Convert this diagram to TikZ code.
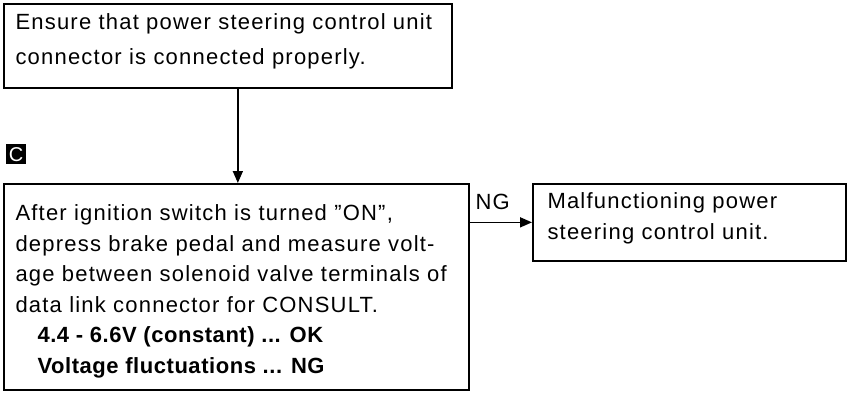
\documentclass[tikz,border=0pt]{standalone}
\usepackage{fontspec}
\setmainfont{Liberation Sans}[LetterSpace=5.5,BoldFeatures={LetterSpace=2.5}]
\usetikzlibrary{arrows.meta}
\begin{document}
\begin{tikzpicture}[x=1pt,y=-1pt,
  box/.style={draw,line width=1.7pt,anchor=north west,inner sep=0pt,align=left},
  txt/.style={font=\fontsize{22}{30.6}\selectfont},
  arr/.style={line width=1.6pt,-{Triangle[length=12pt,width=10pt]}}]
\useasboundingbox (0,0) rectangle (852,392);
\node[box,minimum width=448pt,minimum height=84pt] (b1) at (3,3) {};
\node[txt,anchor=north west,align=left,font=\fontsize{22}{35}\selectfont] (t1) at (12,10)
  {Ensure that power steering control unit\\connector is connected properly.};
\node[box,minimum width=465pt,minimum height=206pt] (b2) at (3,183) {};
\node[txt,anchor=north west,align=left] (t2) at (12,201)
  {After ignition switch is turned ''ON'',\\
   depress brake pedal and measure volt-\\
   age between solenoid valve terminals of\\
   data link connector for CONSULT.\\
   \hspace*{22pt}\textbf{4.4 - 6.6V (constant) ... OK}\\
   \hspace*{22pt}\textbf{Voltage fluctuations ... NG}};
\node[box,minimum width=313pt,minimum height=77pt] (b3) at (532,183) {};
\node[txt,anchor=north west,align=left,font=\fontsize{22}{31}\selectfont] (t3) at (544,189)
  {Malfunctioning power\\steering control unit.};
\node[fill=black,text=white,minimum size=20pt,inner sep=0pt,anchor=north west,
  font=\fontsize{20}{20}\selectfont] (c) at (6,144) {C};
\draw[arr] ([xshift=10pt]b1.south) -- ([xshift=10pt]b1.south |- b2.north);
\draw[arr] (b2.east |- b3.west) -- node[above,txt,pos=0.37,yshift=9pt] (ng) {NG} (b3.west);
\end{tikzpicture}
\end{document}
